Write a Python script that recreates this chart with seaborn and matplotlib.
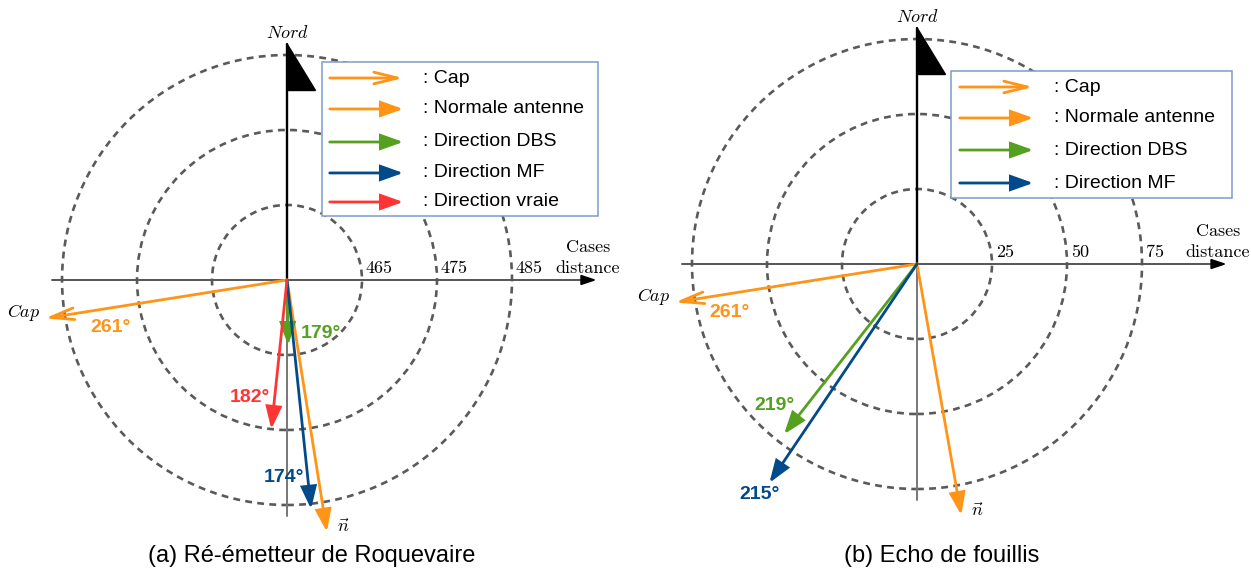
import numpy as np
import pandas as pd
import seaborn as sns
import matplotlib.pyplot as plt
from matplotlib.patches import FancyArrowPatch, Rectangle, Circle, Polygon

sns.set_theme(style="white")
plt.rcParams['font.family'] = ['Liberation Sans', 'DejaVu Sans']
plt.rcParams['mathtext.fontset'] = 'cm'
plt.rcParams['text.color'] = 'black'

# ---- data (bearings in degrees, clockwise from north; lengths in ring units) ----
series = ["Cap", "Normale antenne", "Direction DBS", "Direction MF", "Direction vraie"]
colors = ["#ff9416", "#ff9416", "#55a01f", "#024a8a", "#ff3535"]

a_angles = [261, 171, 179, 174, 186]
a_lengths = [3.27, 3.4, 0.87, 3.07, 2.0]
a_labels = ["261°", None, "179°", "174°", "182°"]

b_angles = [261, 170, 218, 214]
b_lengths = [3.27, 3.4, 2.88, 3.52]
b_labels = ["261°", None, "219°", "215°"]

ring_radii = [1, 2, 3]
a_ring_labels = ["465", "475", "485"]
b_ring_labels = ["25", "50", "75"]

captions = ["(a) Ré-émetteur de Roquevaire", "(b) Echo de fouillis"]

# label placement (ring units, relative to origin)
a_label_pos = [(-2.35, -0.64), None, (0.45, -0.71), (-0.04, -2.63), (-0.5, -1.57)]
b_label_pos = [(-2.5, -0.64), None, (-1.9, -1.89), (-2.1, -3.07)]


def arrow(ax, x0, y0, x1, y1, color, kind="-|>", z=5):
    if kind == "->":
        style = "->,head_length=17,head_width=4.2"
    else:
        style = "-|>,head_length=13.5,head_width=4.8"
    p = FancyArrowPatch((x0, y0), (x1, y1), arrowstyle=style, mutation_scale=1,
                        color=color, lw=2.0, shrinkA=0, shrinkB=0, zorder=z,
                        joinstyle="miter")
    ax.add_patch(p)


def draw_panel(ax, angles, lengths, labels, label_pos, ring_labels, xlim, ylim, legend_box, legend_rows):
    ax.set_xlim(*xlim)
    ax.set_ylim(*ylim)
    ax.set_axis_off()

    for r in ring_radii:
        ax.add_patch(Circle((0, 0), r, fill=False, ec="#5a5a5a", lw=1.9,
                            ls=(0, (2.6, 2.0)), zorder=1))

    # axes
    ax.plot([-3.13, 3.95], [0, 0], color="#555555", lw=1.4, zorder=2)
    ax.add_patch(Polygon([(4.1, 0), (3.92, 0.06), (3.92, -0.06)], closed=True,
                         color="black", zorder=3))
    ax.plot([0, 0], [0, -3.15], color="#777777", lw=1.4, zorder=2)
    ax.plot([0, 0], [0, 3.15], color="black", lw=1.7, zorder=2)
    ax.add_patch(Polygon([(0, 3.15), (0, 2.53), (0.37, 2.53)], closed=True,
                         color="black", zorder=3))
    ax.text(0, 3.29, r"$Nord$", ha="center", va="center", fontsize=13)
    ax.text(4.01, 0.43, "Cases", ha="center", va="center", family="cmr10", fontsize=13)
    ax.text(4.01, 0.15, "distance", ha="center", va="center", family="cmr10", fontsize=13)
    for r, t in zip(ring_radii, ring_labels):
        ax.text(r + 0.05, 0.16, t, ha="left", va="center", family="cmr10", fontsize=13)

    # direction arrows
    for i, (ang, L) in enumerate(zip(angles, lengths)):
        th = np.deg2rad(ang)
        x1, y1 = L * np.sin(th), L * np.cos(th)
        arrow(ax, 0, 0, x1, y1, colors[i], kind="->" if i == 0 else "-|>")
        if labels[i] is not None:
            ax.text(*label_pos[i], labels[i], color=colors[i], fontsize=14,
                    fontweight="bold", ha="center", va="center", zorder=6)
        if i == 0:
            ax.text(x1 - 0.28, y1 + 0.08, r"$Cap$", ha="center", va="center", fontsize=13)
        if i == 1:
            ax.text(x1 + 0.22, y1 + 0.06, r"$\vec{n}$", ha="center", va="center", fontsize=13)

    # legend
    x0, y0, x1, y1 = legend_box
    ax.add_patch(Rectangle((x0, y0), x1 - x0, y1 - y0, fill=True, fc="white",
                           ec="#7c9bcb", lw=1.1, zorder=7))
    for i, ry in enumerate(legend_rows):
        arrow(ax, 0.57, ry, 1.55, ry, colors[i], kind="->" if i == 0 else "-|>", z=8)
        ax.text(1.82, ry, ": " + series[i], ha="left", va="center", fontsize=14, zorder=8)


fig = plt.figure(figsize=(12.51, 5.71), dpi=100)
ax_a = fig.add_axes([0, 0, 625 / 1251, 1])
ax_b = fig.add_axes([625 / 1251, 0, 626 / 1251, 1])

draw_panel(ax_a, a_angles, a_lengths, a_labels, a_label_pos, a_ring_labels,
           (-3.827, 4.507), (-3.88, 3.733),
           (0.467, 0.853, 4.147, 2.907), [2.693, 2.28, 1.84, 1.427, 1.04])
draw_panel(ax_b, b_angles, b_lengths, b_labels, b_label_pos, b_ring_labels,
           (-3.893, 4.453), (-4.093, 3.52),
           (0.453, 0.88, 4.2, 2.573), [2.36, 1.947, 1.52, 1.08])

fig.text(312 / 1251, 1 - 556 / 571, captions[0], ha="center", va="center", fontsize=17)
fig.text(942 / 1251, 1 - 556 / 571, captions[1], ha="center", va="center", fontsize=17)

fig.savefig("out.png", dpi=100)
